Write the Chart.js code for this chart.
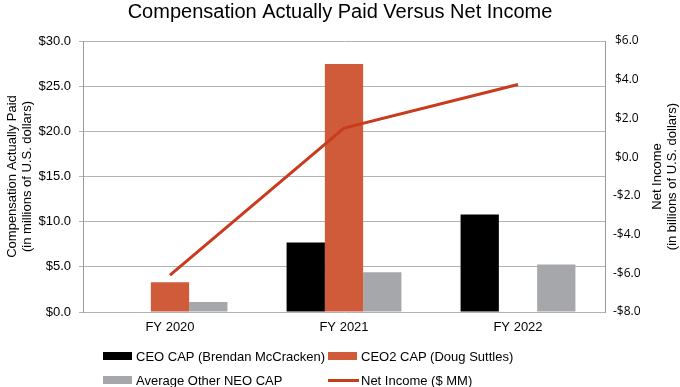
<!DOCTYPE html>
<html>
<head>
<meta charset="utf-8">
<script src="https://cdn.jsdelivr.net/npm/chart.js@4.4.1/dist/chart.umd.min.js"></script>
<style>
  html, body { margin: 0; padding: 0; background: #fff; }
  #wrap { position: relative; width: 680px; height: 387px; }
  #c { position: absolute; left: 0; top: 0; }
  #legend { position: absolute; left: 103px; top: 344px; display: grid; grid-template-columns: 225px auto; grid-auto-rows: 24px; font-family: "Liberation Sans", Arial, sans-serif; font-size: 13px; color: #000; }
  .item { display: flex; align-items: center; }
  .sw { width: 31px; height: 24px; position: relative; margin-right: 2px; }
  .sw span { position: absolute; }
</style>
</head>
<body>
<div id="wrap">
  <canvas id="c" width="680" height="387"></canvas>
  <div id="legend"></div>
</div>
<script>
const categories = ["FY 2020", "FY 2021", "FY 2022"];
const ceoCap = [null, 7.7, 10.8];
const ceo2Cap = [3.3, 27.45, null];
const otherNeoCap = [1.1, 4.4, 5.25];
const netIncome = [-6.1, 1.5, 3.75];
const leftTitle = ["Compensation Actually Paid", "(in millions of U.S. dollars)"];
const rightTitle = ["Net Income", "(in billions of U.S. dollars)"];
const chartTitle = "Compensation Actually Paid Versus Net Income";

const C_BLACK = "#000000", C_ORANGE = "#CF5B3B", C_GRAY = "#A6A7AA", C_LINE = "#C93B1D";
const FONT = "'Liberation Sans', Arial, sans-serif";

const rightTitlePlugin = {
  id: "rightTitle",
  afterDraw(chart) {
    const ctx = chart.ctx;
    const area = chart.chartArea;
    const cy = (area.top + area.bottom) / 2;
    ctx.save();
    ctx.fillStyle = "#000";
    ctx.font = "13px " + FONT;
    ctx.textAlign = "center";
    ctx.textBaseline = "middle";
    const xs = [657, 672];
    rightTitle.forEach((t, i) => {
      ctx.save();
      ctx.translate(xs[i], cy);
      ctx.rotate(-Math.PI / 2);
      ctx.fillText(t, 0, 0);
      ctx.restore();
    });
    ctx.restore();
  }
};

const fmtLeft = v => "$" + Number(v).toFixed(1);
const fmtRight = v => (v < 0 ? "-$" + Math.abs(v).toFixed(1) : "$" + Number(v).toFixed(1));

const chart = new Chart(document.getElementById("c"), {
  type: "bar",
  data: {
    labels: categories,
    datasets: [
      { label: "CEO CAP (Brendan McCracken)", data: ceoCap, backgroundColor: C_BLACK, yAxisID: "y", order: 1, kind: "box" },
      { label: "CEO2 CAP (Doug Suttles)", data: ceo2Cap, backgroundColor: C_ORANGE, yAxisID: "y", order: 1, kind: "box" },
      { label: "Average Other NEO CAP", data: otherNeoCap, backgroundColor: C_GRAY, yAxisID: "y", order: 1, kind: "box" },
      { type: "line", label: "Net Income ($ MM)", data: netIncome, borderColor: C_LINE, backgroundColor: C_LINE, borderWidth: 3, pointRadius: 0, tension: 0, yAxisID: "y1", order: 0, kind: "line" }
    ]
  },
  options: {
    responsive: false,
    animation: false,
    events: [],
    layout: { padding: { left: 0, right: 0, top: 0, bottom: 0 } },
    datasets: { bar: { categoryPercentage: 0.66, barPercentage: 1.0 } },
    plugins: {
      legend: { display: false },
      tooltip: { enabled: false },
      title: { display: true, text: chartTitle, color: "#000", font: { family: FONT, size: 20, weight: "normal" }, padding: { top: 0, bottom: 17 } }
    },
    scales: {
      x: {
        grid: { display: false, drawTicks: false },
        border: { display: false },
        ticks: { color: "#000", font: { family: FONT, size: 13 }, padding: 8 },
        afterFit(s) { s.height = 75; }
      },
      y: {
        position: "left",
        min: 0, max: 30,
        ticks: { stepSize: 5, callback: fmtLeft, color: "#000", font: { family: FONT, size: 13 }, padding: 8 },
        grid: { color: "#B3B3B3", lineWidth: 1, drawTicks: true, tickLength: 4 },
        border: { display: true, color: "#9A9A9A", width: 1 },
        title: { display: true, text: leftTitle, color: "#000", font: { family: FONT, size: 13, lineHeight: 1.15 }, padding: { top: 5, bottom: 0 } },
        afterFit(s) { s.width = 83; }
      },
      y1: {
        position: "right",
        min: -8, max: 6,
        ticks: { stepSize: 2, callback: fmtRight, color: "#000", font: { family: "'Open Sans', sans-serif", size: 12 }, padding: 8, crossAlign: "center" },
        grid: { display: false, drawTicks: false },
        border: { display: true, color: "#9A9A9A", width: 1 },
        afterFit(s) { s.width = 75; }
      }
    }
  },
  plugins: [rightTitlePlugin]
});

// HTML legend built from the chart's datasets
const legendOrder = [0, 1, 2, 3];
const legendEl = document.getElementById("legend");
legendOrder.forEach(i => {
  const ds = chart.data.datasets[i];
  const item = document.createElement("div");
  item.className = "item";
  const sw = document.createElement("div");
  sw.className = "sw";
  const mark = document.createElement("span");
  if (ds.kind === "line") {
    mark.style.cssText = "left:0;top:10.5px;width:31px;height:3px;background:" + ds.borderColor;
  } else {
    mark.style.cssText = "left:0;top:8px;width:29px;height:8px;background:" + ds.backgroundColor;
  }
  sw.appendChild(mark);
  const txt = document.createElement("span");
  txt.textContent = ds.label;
  item.appendChild(sw);
  item.appendChild(txt);
  legendEl.appendChild(item);
});
</script>
</body>
</html>
